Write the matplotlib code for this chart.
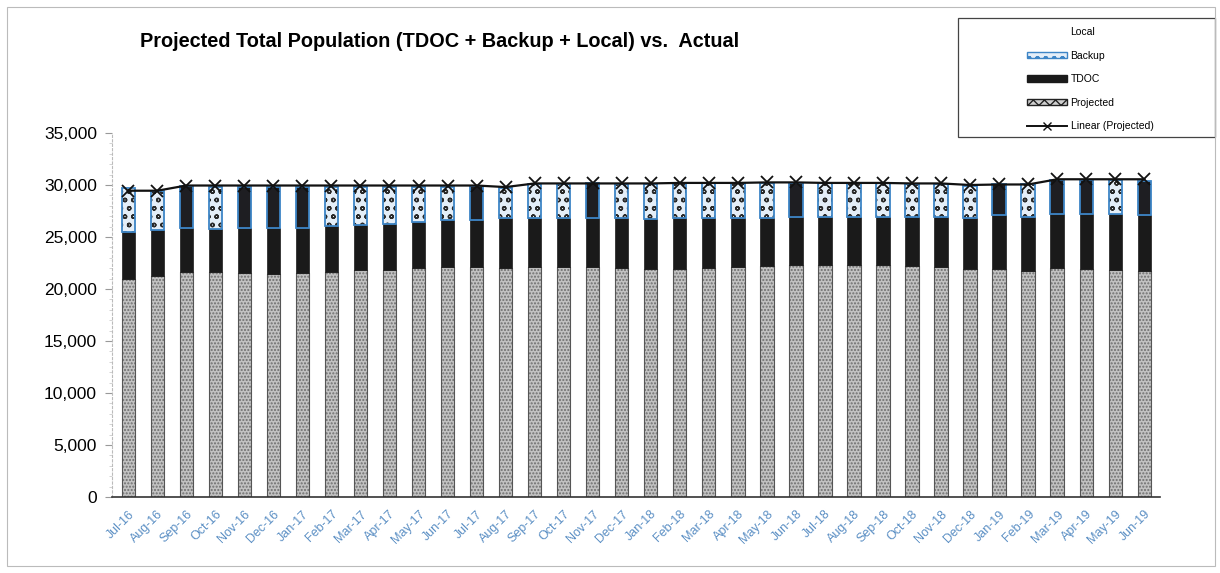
import numpy as np
import matplotlib
matplotlib.use("Agg")
import matplotlib.pyplot as plt
from matplotlib.patches import Patch, Rectangle
from matplotlib.lines import Line2D

plt.rcParams['font.family'] = ['Liberation Sans', 'DejaVu Sans']

months = ["Jul-16", "Aug-16", "Sep-16", "Oct-16", "Nov-16", "Dec-16",
          "Jan-17", "Feb-17", "Mar-17", "Apr-17", "May-17", "Jun-17",
          "Jul-17", "Aug-17", "Sep-17", "Oct-17", "Nov-17", "Dec-17",
          "Jan-18", "Feb-18", "Mar-18", "Apr-18", "May-18", "Jun-18",
          "Jul-18", "Aug-18", "Sep-18", "Oct-18", "Nov-18", "Dec-18",
          "Jan-19", "Feb-19", "Mar-19", "Apr-19", "May-19", "Jun-19"]

local = [21000, 21250, 21650, 21600, 21500, 21450, 21550, 21650, 21800, 21850, 22000, 22150,
         22100, 22000, 22150, 22150, 22150, 22000, 21900, 21900, 22000, 22100, 22250, 22300,
         22300, 22300, 22300, 22200, 22100, 21900, 21900, 21750, 22000, 21900, 21850, 21750]

tdoc = [4500, 4450, 4200, 4150, 4350, 4400, 4350, 4400, 4350, 4400, 4450, 4450,
        4500, 4800, 4650, 4650, 4700, 4800, 4850, 4900, 4800, 4700, 4550, 4600,
        4650, 4650, 4650, 4750, 4850, 4900, 5200, 5200, 5250, 5350, 5400, 5350]

backup = [4200, 3750, 4050, 4100, 4000, 3950, 3950, 3800, 3650, 3600, 3400, 3250,
          3300, 2950, 3300, 3300, 3300, 3300, 3350, 3350, 3350, 3350, 3350, 3300,
          3200, 3200, 3200, 3150, 3150, 3150, 3000, 3150, 3200, 3250, 3200, 3300]

projected = [29450, 29450, 29950, 29950, 29950, 29950, 29950, 29950, 29950, 29950, 29950, 29950,
             29950, 29800, 30150, 30150, 30150, 30150, 30150, 30200, 30200, 30200, 30250, 30250,
             30200, 30200, 30200, 30150, 30150, 30000, 30050, 30050, 30550, 30550, 30550, 30550]

# months where the backup segment printed dark in the scan
dark_backup = ["Sep-16", "Nov-16", "Dec-16", "Jan-17", "Jul-17", "Nov-17",
               "Jun-18", "Jan-19", "Mar-19", "Apr-19", "Jun-19"]

x = np.arange(len(months))
w = 0.46
local = np.array(local)
tdoc = np.array(tdoc)
backup = np.array(backup)

fig = plt.figure(figsize=(12.2, 5.73), dpi=100)
ax = fig.add_axes([0.092, 0.1326, 0.859, 0.6353])

ax.bar(x, local, w, color='#c2c2c2', edgecolor='#6e6e6e', hatch='.....', linewidth=0)
ax.bar(x, local, w, fill=False, edgecolor='#555555', linewidth=0.8)
ax.bar(x, tdoc, w, bottom=local, color='#1a1a1a', edgecolor='#1a1a1a', linewidth=0.5)

is_dark = np.array([m in dark_backup for m in months])
bb = local + tdoc
ax.bar(x[~is_dark], backup[~is_dark], w, bottom=bb[~is_dark], color='#e4eef8',
       edgecolor='#2a2a2a', hatch='oo', linewidth=0)
ax.bar(x[is_dark], backup[is_dark], w, bottom=bb[is_dark], color='#1e1e22',
       edgecolor='#1e1e22', linewidth=0)
ax.bar(x, backup, w, bottom=bb, fill=False, edgecolor='#3d85c6', linewidth=1.3)

ax.plot(x, projected, color='#111111', linewidth=1.6, marker='x', markersize=8,
        markeredgewidth=1.3)

ax.set_xlim(-0.55, len(months) - 0.45)
ax.set_ylim(0, 35000)
ax.set_yticks(np.arange(0, 35001, 5000))
ax.set_yticklabels([f"{v:,}" for v in range(0, 35001, 5000)], fontsize=12.5)
ax.set_yticks(np.arange(0, 35001, 1000), minor=True)
ax.tick_params(axis='y', which='major', length=5, color='#999999', pad=6)
ax.tick_params(axis='y', which='minor', length=2, color='#cccccc')
ax.set_xticks(x)
ax.set_xticklabels(months, rotation=45, ha='right', rotation_mode='anchor',
                   fontsize=9, color='#5b8fc4')
ax.tick_params(axis='x', length=0, pad=8)
for s in ['top', 'right']:
    ax.spines[s].set_visible(False)
ax.spines['left'].set_color('#bbbbbb')
ax.spines['left'].set_linestyle((0, (2, 2)))
ax.spines['bottom'].set_color('#333333')
ax.spines['bottom'].set_linewidth(1.2)

fig.text(0.115, 0.927, "Projected Total Population (TDOC + Backup + Local) vs.  Actual",
         fontsize=14.3, fontweight='bold', va='center', ha='left')

# legend box
fig.patches.append(Rectangle((0.785, 0.761), 0.211, 0.208, transform=fig.transFigure,
                             fill=False, edgecolor='#444444', linewidth=0.9))
handles = [
    Patch(facecolor='none', edgecolor='none'),
    Patch(facecolor='#e4eef8', edgecolor='#3d85c6', hatch='oo'),
    Patch(facecolor='#1a1a1a', edgecolor='#1a1a1a'),
    Patch(facecolor='#d0d0d0', edgecolor='#222222', hatch='xxx'),
    Line2D([], [], color='#111111', linewidth=1.4, marker='x', markersize=6),
]
labels = ["Local", "Backup", "TDOC", "Projected", "Linear (Projected)"]
fig.legend(handles, labels, loc='upper left', bbox_to_anchor=(0.834, 0.969),
           frameon=False, fontsize=7.5, handlelength=3.9, handleheight=0.6,
           handletextpad=0.3, labelspacing=1.3)

fig.patches.append(Rectangle((0.006, 0.012), 0.99, 0.975, transform=fig.transFigure,
                             fill=False, edgecolor='#bbbbbb', linewidth=0.8))

fig.savefig("out.png", dpi=100)
